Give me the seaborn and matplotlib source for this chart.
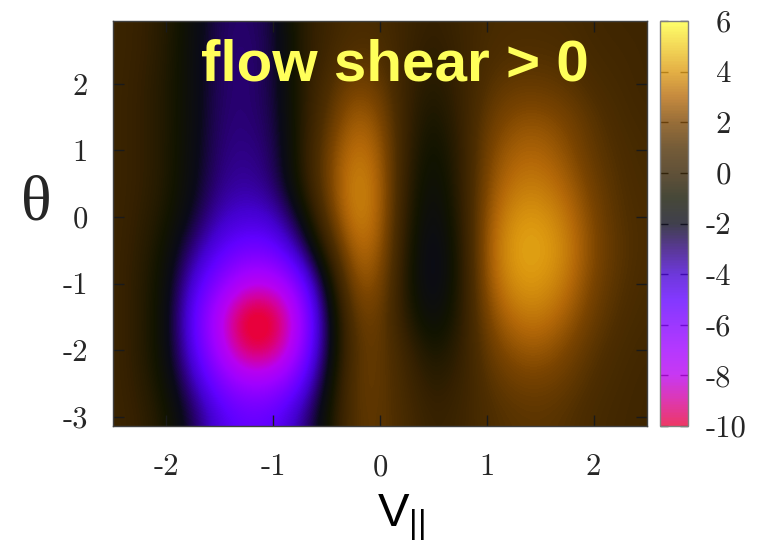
import numpy as np
import matplotlib
matplotlib.use("Agg")
import matplotlib.pyplot as plt
import seaborn as sns

# ---------------- data ----------------
v_par = [-2.5, -2.25, -2.0, -1.75, -1.5, -1.25, -1.0, -0.75, -0.5, -0.25, 0.0,
         0.25, 0.5, 0.75, 1.0, 1.25, 1.5, 1.75, 2.0, 2.25, 2.5]
theta = [-3.0, -2.5, -2.0, -1.5, -1.0, -0.5, 0.0, 0.5, 1.0, 1.5, 2.0, 2.5, 3.0]

# one row per theta value (bottom to top), one column per v_par value
field = [
    [0.3, 0.0, -0.8, -2.6, -4.5, -5.2, -5.0, -3.6, -1.2, 1.3, 1.4, 0.7, 0.0, 0.3, 0.9, 1.2, 1.3, 1.1, 0.7, 0.5, 0.4],
    [0.3, -0.2, -1.2, -3.6, -5.8, -7.0, -6.8, -5.3, -1.8, 1.4, 1.5, 0.5, -0.4, 0.1, 1.1, 1.7, 1.8, 1.5, 0.9, 0.6, 0.4],
    [0.3, -0.3, -1.5, -4.6, -7.5, -10.0, -9.8, -7.0, -2.5, 1.3, 1.6, 0.2, -1.0, -0.2, 1.5, 2.4, 2.6, 2.0, 1.2, 0.7, 0.5],
    [0.3, -0.3, -1.5, -5.0, -8.0, -10.8, -10.6, -7.5, -2.6, 1.6, 1.8, -0.5, -1.8, -0.5, 2.0, 3.2, 3.4, 2.7, 1.6, 0.9, 0.6],
    [0.3, -0.3, -1.4, -4.3, -6.3, -8.0, -8.0, -6.0, -1.8, 2.4, 2.3, -0.8, -2.3, -0.7, 2.5, 3.9, 4.0, 3.3, 1.9, 1.1, 0.7],
    [0.3, -0.2, -1.2, -3.2, -4.8, -5.6, -5.4, -3.6, -0.1, 3.1, 2.8, -0.7, -2.3, -0.7, 2.7, 4.2, 4.3, 3.6, 2.1, 1.2, 0.8],
    [0.3, -0.1, -0.8, -2.2, -3.8, -4.2, -4.0, -2.0, 1.3, 3.7, 3.1, -0.5, -2.0, -0.5, 2.5, 3.9, 4.0, 3.3, 2.0, 1.1, 0.8],
    [0.3, 0.0, -0.6, -1.8, -3.2, -3.5, -3.0, -0.8, 1.8, 3.8, 3.1, -0.3, -1.7, -0.3, 2.2, 3.3, 3.4, 2.8, 1.7, 1.0, 0.7],
    [0.3, 0.0, -0.6, -1.7, -3.0, -3.2, -2.8, -0.6, 1.7, 3.4, 2.8, -0.1, -1.4, -0.2, 1.9, 2.8, 2.9, 2.3, 1.4, 0.9, 0.6],
    [0.3, 0.0, -0.6, -1.6, -2.9, -3.0, -2.6, -0.6, 1.2, 2.8, 2.3, 0.0, -1.0, 0.0, 1.5, 2.2, 2.3, 1.9, 1.2, 0.7, 0.5],
    [0.3, 0.0, -0.6, -1.6, -2.8, -3.0, -2.5, -0.5, 0.8, 2.0, 1.6, 0.1, -0.6, 0.1, 1.1, 1.5, 1.5, 1.3, 0.8, 0.6, 0.4],
    [0.3, 0.1, -0.5, -1.6, -2.8, -3.0, -2.5, -0.5, 0.4, 1.1, 1.0, 0.2, -0.3, 0.2, 0.8, 1.0, 1.0, 0.9, 0.6, 0.5, 0.4],
    [0.3, 0.1, -0.5, -1.5, -2.7, -2.9, -2.4, -0.4, 0.3, 0.8, 0.7, 0.3, -0.1, 0.3, 0.7, 0.8, 0.8, 0.7, 0.5, 0.4, 0.4],
]

x_ticks = [-2, -1, 0, 1, 2]
y_ticks = [-3, -2, -1, 0, 1, 2]
cbar_ticks = [-10, -8, -6, -4, -2, 0, 2, 4, 6]
theta_range = (-3.1416, 2.945)
v_range = (-2.5, 2.5)
c_range = (-10, 6)

# palette: one colour per unit from -10 to 6
palette_colors = ["#e8003c", "#d4009c", "#b800f0", "#a000ff", "#8000ff", "#6000ff",
                  "#4400d0", "#2a0078", "#0a0a1a", "#121400", "#342000", "#4e2e00",
                  "#7a4400", "#b46808", "#dc9810", "#f0cc28", "#ffff40"]

# ---------------- style ----------------
sns.set_theme(style="white")
plt.rcParams["axes.unicode_minus"] = False
plt.rcParams["font.family"] = ["Liberation Sans", "DejaVu Sans"]
plt.rcParams["mathtext.fontset"] = "custom"
plt.rcParams["mathtext.rm"] = "Liberation Sans"

cmap = sns.blend_palette(palette_colors, as_cmap=True)

fig = plt.figure(figsize=(7.61, 5.48), dpi=100)
ax = fig.add_axes([0.1485, 0.2226, 0.7017, 0.739])
cax = fig.add_axes([0.8673, 0.2226, 0.0368, 0.739])

Z = np.array(field)
v = np.array(v_par)
t = np.array(theta)
dv = v[1] - v[0]
dt = t[1] - t[0]
im = ax.imshow(Z, origin="lower", cmap=cmap, vmin=c_range[0], vmax=c_range[1],
               extent=[v[0] - dv / 2, v[-1] + dv / 2, t[0] - dt / 2, t[-1] + dt / 2],
               aspect="auto", interpolation="bicubic")
ax.set_xlim(*v_range)
ax.set_ylim(*theta_range)

tick_font = dict(family="cmr10", size=22)
ax.set_xticks(x_ticks)
ax.set_xticklabels([f"{x:g}" for x in x_ticks], fontdict=tick_font)
ax.set_yticks(y_ticks)
ax.set_yticklabels([f"{y:g}" for y in y_ticks], fontdict=tick_font)
ax.tick_params(axis="both", which="both", direction="in", length=8, width=1,
               color="#1a1a1a", top=True, right=True, bottom=True, left=True)
ax.tick_params(axis="x", pad=20)
ax.tick_params(axis="y", pad=18)
for s in ax.spines.values():
    s.set_color("#404040")
    s.set_linewidth(1.0)

ax.set_xlabel(r"V$_{\mathrm{||}}$", fontsize=34, color="black")
ax.xaxis.set_label_coords(0.54, -0.165)
ax.set_ylabel("θ", fontsize=46, rotation=0, family="Liberation Serif",
              va="center", ha="center")
ax.yaxis.set_label_coords(-0.144, 0.546)

ax.text(0.527, 0.852, "flow shear > 0", transform=ax.transAxes, ha="center",
        va="baseline", fontsize=42, fontweight="bold", color="#ffff5a",
        family="Liberation Sans")

cbar = fig.colorbar(im, cax=cax)
cbar.solids.set_alpha(0.78)
cbar.set_ticks(cbar_ticks)
cbar.set_ticklabels([("-" if c < 0 else " ") + f"{abs(c):g}" for c in cbar_ticks])
for lab in cax.get_yticklabels():
    lab.set_fontfamily("cmr10")
    lab.set_fontsize(22)
cax.tick_params(axis="y", which="both", direction="in", left=True, right=True,
                length=6, width=1, color="#303030", pad=13)
cax.tick_params(axis="y", which="minor", left=False, right=False)
cbar.outline.set_edgecolor("#808080")
cbar.outline.set_linewidth(1.0)

fig.savefig("out.png", dpi=100)
